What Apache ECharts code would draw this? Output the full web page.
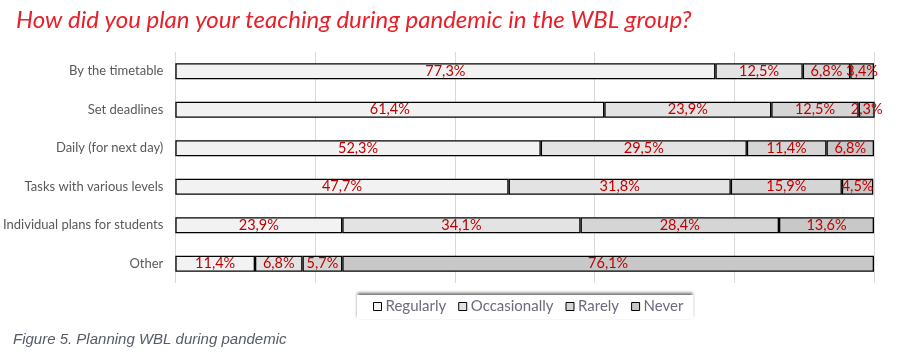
<!DOCTYPE html>
<html>
<head>
<meta charset="utf-8">
<script src="https://cdn.jsdelivr.net/npm/echarts@6/dist/echarts.min.js"></script>
<style>
html,body{margin:0;padding:0;background:#fff;}
#chart{width:900px;height:357px;}
</style>
</head>
<body>
<div id="chart"></div>
<script>
const categories = ["By the timetable", "Set deadlines", "Daily (for next day)", "Tasks with various levels", "Individual plans for students", "Other"];
const seriesNames = ["Regularly", "Occasionally", "Rarely", "Never"];
const regularly = [77.3, 61.4, 52.3, 47.7, 23.9, 11.4];
const occasionally = [12.5, 23.9, 29.5, 31.8, 34.1, 6.8];
const rarely = [6.8, 12.5, 11.4, 15.9, 28.4, 5.7];
const never = [3.4, 2.3, 6.8, 4.5, 13.6, 76.1];
const colors = ["#f2f2f2", "#e3e3e3", "#d5d5d5", "#c8c8c8"];
const titleText = "How did you plan your teaching during pandemic in the WBL group?";
const captionText = "Figure 5. Planning WBL during pandemic";

const values = [regularly, occasionally, rarely, never];
const chart = echarts.init(document.getElementById('chart'));
const series = seriesNames.map((name, i) => ({
  name: name,
  type: 'bar',
  stack: 'total',
  barWidth: 16,
  data: values[i],
  itemStyle: { color: colors[i], borderColor: '#000', borderWidth: 1.3 },
  label: {
    show: true,
    position: 'inside',
    offset: [0, 2],
    color: '#c00000',
    fontFamily: 'Lato',
    fontSize: 14.5,
    formatter: p => p.value.toFixed(1).replace('.', ',') + '%'
  },
  labelLayout: { hideOverlap: false },
  emphasis: { disabled: true }
}));

chart.setOption({
  animation: false,
  title: {
    text: titleText,
    left: 11,
    top: 3,
    textStyle: { color: '#e8202a', fontFamily: 'Lato', fontStyle: 'italic', fontWeight: 'normal', fontSize: 24 }
  },
  graphic: [{
    type: 'text',
    left: 13,
    top: 332,
    style: { text: captionText, fill: '#555a66', font: 'italic 15px "Liberation Sans", Arial, sans-serif' }
  }],
  legend: {
    data: seriesNames,
    left: 357,
    top: 295,
    itemWidth: 8,
    itemHeight: 8,
    itemGap: 12,
    padding: [4, 10, 5, 16],
    backgroundColor: '#fff',
    shadowColor: 'rgba(0,0,0,0.6)',
    shadowBlur: 3,
    shadowOffsetY: -2,
    icon: 'rect',
    itemStyle: { borderColor: '#000', borderWidth: 1 },
    textStyle: { color: '#6b6b80', fontFamily: 'Lato', fontSize: 15, padding: [0, 0, 0, -1] }
  },
  grid: { left: 175, right: 26, top: 52, height: 231, containLabel: false },
  xAxis: {
    type: 'value',
    min: 0,
    max: 100,
    interval: 20,
    axisLabel: { show: false },
    axisLine: { show: false },
    axisTick: { show: false },
    splitLine: { show: true, lineStyle: { color: '#d9d9d9', width: 1 } }
  },
  yAxis: {
    type: 'category',
    data: categories,
    inverse: true,
    axisLine: { show: false },
    axisTick: { show: false },
    axisLabel: { color: '#595959', fontFamily: 'Lato', fontSize: 13, margin: 12 }
  },
  series: series
});
</script>
</body>
</html>
